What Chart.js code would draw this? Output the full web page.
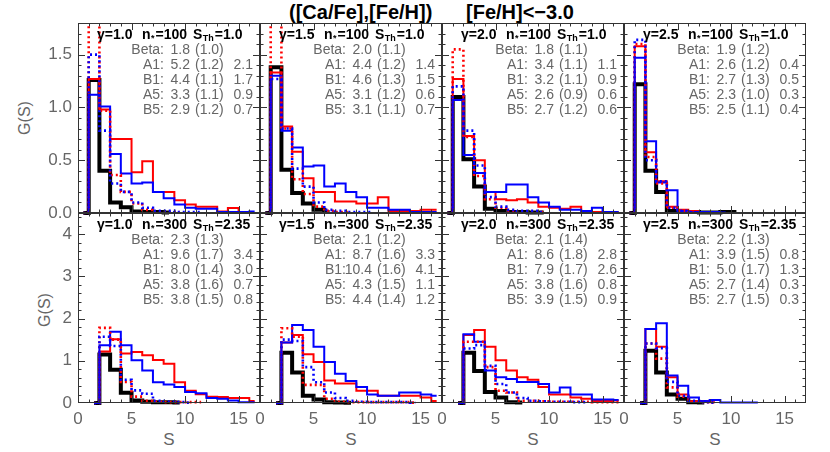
<!DOCTYPE html>
<html>
<head>
<meta charset="utf-8">
<script src="https://cdn.jsdelivr.net/npm/chart.js@4.4.1/dist/chart.umd.min.js"></script>
<style>
html,body{margin:0;padding:0;background:#fff;}
#fig{position:relative;width:830px;height:452px;overflow:hidden;font-family:"Liberation Sans",Arial,sans-serif;background:#fff;}
.pan{position:absolute;}
.ttl{position:absolute;top:0px;font-weight:bold;font-size:20px;color:#000;white-space:nowrap;line-height:24px;}
.ylab{position:absolute;width:50px;height:20px;font-size:16px;color:#666;transform:rotate(-90deg);text-align:center;white-space:nowrap;line-height:20px;}
.xlab{position:absolute;width:20px;top:430px;font-size:17px;color:#666;text-align:center;line-height:20px;}
</style>
</head>
<body>
<div id="fig">
  <div class="ttl" style="left:289px">([Ca/Fe],[Fe/H])</div>
  <div class="ttl" style="left:466px">[Fe/H]&lt;−3.0</div>
  <div class="ylab" style="left:0px;top:108px">G(S)</div>
  <div class="ylab" style="left:20px;top:300px">G(S)</div>
  <div class="xlab" style="left:159px">S</div>
  <div class="xlab" style="left:341px">S</div>
  <div class="xlab" style="left:523px">S</div>
  <div class="xlab" style="left:705px">S</div>
</div>
<script>
// ---------------- DATA ----------------
const topCenters = [0.5,1.5,2.5,3.5,4.5,5.5,6.5,7.5,8.5,9.5,10.5,11.5,12.5,13.5,14.5,15.5,16.5];
const botCenters = [1.5,2.5,3.5,4.5,5.5,6.5,7.5,8.5,9.5,10.5,11.5,12.5,13.5,14.5,15.5,16.5];

const gammas = ['1.0','1.5','2.0','2.5'];
const nStars = ['100','300'];
const sThs = ['1.0','2.35'];
const statLabels = ['Beta:','A1:','B1:','A5:','B5:'];

// top row (n*=100)
const top1Black   = [0,1.26,0.40,0.10,0.055,0.015,0.01,0.01,0.005];
const top1Red     = [0,1.27,0.98,0.70,0.70,0.385,0.49,0.20,0.20,0.12,0.08,0.06,0.06,0.015,0.047,0];
const top1Blue    = [0,1.12,1.01,0.56,0.375,0.28,0.29,0.20,0.14,0.08,0.05,0.04,0.04,0.01,0.01,0.01,0.015];
const top1RedDot  = [0,2.3,0.97,0.36,0.20,0.09,0.03,0.01,0.01,0.01];
const top1BlueDot = [0,1.5,0.78,0.28,0.20,0.10,0.05,0.02,0.02,0.01,0.01,0.01];

const top2Black   = [0,1.38,0.41,0.19,0.09,0.03,0.01];
const top2Red     = [0,1.33,0.82,0.58,0.33,0.20,0.20,0.11,0.11,0.09,0.09,0.15,0.02,0.02,0.02,0.03,0.03];
const top2Blue    = [0,1.30,0.78,0.62,0.44,0.45,0.25,0.28,0.20,0.15,0.05,0.05,0.03,0.03,0.01,0.01,0.01];
const top2RedDot  = [0,2.3,0.80,0.32,0.18,0.06,0.02,0.01,0.01];
const top2BlueDot = [0,1.27,0.80,0.42,0.25,0.10,0.03,0.02,0.01,0.01,0.01];

const top3Black   = [0,1.10,0.51,0.25,0.04,0.02,0.01,0.01,0.005,0.005];
const top3Red     = [0,1.27,0.73,0.50,0.20,0.13,0.12,0.13,0.10,0.06,0.05,0.04,0.06,0.02,0.01,0.01,0.01,0.02];
const top3Blue    = [0,1.07,0.55,0.38,0.20,0.20,0.27,0.27,0.15,0.10,0.06,0.03,0.03,0.02,0.05,0.01,0.01];
const top3RedDot  = [0,1.55,0.72,0.35,0.13,0.05,0.02,0.01,0.01,0.01];
const top3BlueDot = [0,1.20,0.78,0.45,0.15,0.06,0.03,0.02,0.02,0.01];

const top4Black   = [0,1.22,0.40,0.20,0.02,0.01,0.01,0.005,0.005,0.01,0.01];
const top4Red     = [0,1.58,0.575,0.30,0.06,0.03,0.02,0.01];
const top4Blue    = [0,1.47,0.68,0.29,0.215,0.02,0.01,0.01,0.01,0.005];
const top4RedDot  = [0,1.60,0.53,0.28,0.05,0.02,0.01];
const top4BlueDot = [0,1.64,0.50,0.30,0.05,0.02,0.01];

// bottom row (n*=300)
const bot1Black   = [0,1.15,0.79,0.24,0.06,0.03,0.02,0.02,0.01];
const bot1Red     = [0,1.22,1.51,1.17,1.21,1.13,1.02,0.93,0.49,0.29,0.21,0.15,0.14,0.12,0.12,0.05];
const bot1Blue    = [0,1.37,1.69,1.37,1.01,0.77,0.49,0.44,0.38,0.26,0.23,0.12,0.10,0.06,0.02,0.02];
const bot1RedDot  = [0,1.78,1.50,0.50,0.15,0.05,0.03,0.02,0.02,0.02,0.02];
const bot1BlueDot = [0,1.57,1.35,0.55,0.30,0.22,0.05,0.03,0.02,0.01];

const bot2Black   = [0,1.19,0.72,0.17,0.08,0.02,0.01,0.005];
const bot2Red     = [0,1.43,1.61,1.155,0.97,0.53,0.46,0.46,0.29,0.29,0.17,0.17,0.17,0.17,0.13,0.05];
const bot2Blue    = [0,1.43,1.85,1.73,1.33,0.97,0.69,0.52,0.38,0.20,0.17,0.17,0.25,0.25,0.20,0.17];
const bot2RedDot  = [0,1.77,1.57,0.43,0.43,0.10,0.03,0.02,0.02,0.02,0.02,0.02,0.02,0.01];
const bot2BlueDot = [0,1.50,1.47,0.85,0.49,0.25,0.12,0.05,0.03,0.02,0.02,0.02,0.02,0.01];

const bot3Black   = [0,1.19,0.76,0.26,0.13,0.02,0.01];
const bot3Red     = [0,1.61,1.73,1.33,1.01,0.77,0.61,0.55,0.38,0.20,0.20,0.13,0.10,0.05,0.05,0.06];
const bot3Blue    = [0,1.63,1.45,0.77,0.61,0.57,0.50,0.50,0.45,0.25,0.37,0.20,0.20,0.08,0.08,0.07];
const bot3RedDot  = [0,1.45,1.45,0.85,0.29,0.25,0.05,0.05,0.04,0.03,0.03,0.03,0.03,0.02,0.02,0.02];
const bot3BlueDot = [0,1.29,1.37,0.88,0.45,0.25,0.12,0.05,0.04,0.03,0.03,0.02,0.02];

const bot4Black   = [0,1.24,0.72,0.20,0.10,0.02,0.01];
const bot4Red     = [0,1.75,1.33,0.61,0.20,0.04,0.04,0.02];
const bot4Blue    = [0,1.75,1.89,0.65,0.41,0.13,0.05,0.07,0.01,0.01,0.01,0.01];
const bot4RedDot  = [0,1.41,1.05,0.37,0.15,0.03,0.02,0.01];
const bot4BlueDot = [0,1.41,1.30,0.50,0.17,0.05,0.02,0.01];

// fit statistics: [value, (sigma), third]
const top1Stats = [['1.8','(1.0)',''],['5.2','(1.2)','2.1'],['4.4','(1.1)','1.7'],['3.3','(1.1)','0.9'],['2.9','(1.2)','0.7']];
const top2Stats = [['2.0','(1.1)',''],['4.4','(1.2)','1.4'],['4.6','(1.3)','1.5'],['3.1','(1.2)','0.6'],['3.1','(1.1)','0.7']];
const top3Stats = [['1.8','(1.1)',''],['3.4','(1.1)','1.1'],['3.2','(1.1)','0.9'],['2.6','(0.9)','0.6'],['2.7','(1.2)','0.6']];
const top4Stats = [['1.9','(1.2)',''],['2.6','(1.2)','0.4'],['2.7','(1.3)','0.5'],['2.3','(1.0)','0.3'],['2.5','(1.1)','0.4']];
const bot1Stats = [['2.3','(1.3)',''],['9.6','(1.7)','3.4'],['8.0','(1.4)','3.0'],['3.8','(1.6)','0.7'],['3.8','(1.5)','0.8']];
const bot2Stats = [['2.1','(1.2)',''],['8.7','(1.6)','3.3'],['10.4','(1.6)','4.1'],['4.3','(1.5)','1.1'],['4.4','(1.4)','1.2']];
const bot3Stats = [['2.1','(1.4)',''],['8.6','(1.8)','2.8'],['7.9','(1.7)','2.6'],['3.8','(1.6)','0.8'],['3.9','(1.5)','0.9']];
const bot4Stats = [['2.2','(1.3)',''],['3.9','(1.5)','0.8'],['5.0','(1.7)','1.3'],['2.7','(1.4)','0.3'],['2.7','(1.5)','0.3']];

// axis ranges
const xMin = 0, xMax = 17;
const topYMax = 1.8, botYMax = 4.5;

// ---------------- LAYOUT ----------------
const panelLefts = [78, 260, 442, 624];
const panelW = 182;
const rowTops = [23, 213];
const rowH = 190;
const padL = 78, padT = 24, padR = 12, padB = 50;

const panels = [
  {row:0,col:0,s:[top1Black,top1Red,top1Blue,top1RedDot,top1BlueDot],st:top1Stats},
  {row:0,col:1,s:[top2Black,top2Red,top2Blue,top2RedDot,top2BlueDot],st:top2Stats},
  {row:0,col:2,s:[top3Black,top3Red,top3Blue,top3RedDot,top3BlueDot],st:top3Stats},
  {row:0,col:3,s:[top4Black,top4Red,top4Blue,top4RedDot,top4BlueDot],st:top4Stats},
  {row:1,col:0,s:[bot1Black,bot1Red,bot1Blue,bot1RedDot,bot1BlueDot],st:bot1Stats},
  {row:1,col:1,s:[bot2Black,bot2Red,bot2Blue,bot2RedDot,bot2BlueDot],st:bot2Stats},
  {row:1,col:2,s:[bot3Black,bot3Red,bot3Blue,bot3RedDot,bot3BlueDot],st:bot3Stats},
  {row:1,col:3,s:[bot4Black,bot4Red,bot4Blue,bot4RedDot,bot4BlueDot],st:bot4Stats}
];

const FONT = '"Liberation Sans", Arial, sans-serif';

function drawHeader(ctx, x0, y0, g, n, s) {
  const y = y0 + 12;
  const big = 'bold 14px ' + FONT, small = 'bold 9px ' + FONT;
  ctx.fillStyle = '#000'; ctx.textAlign = 'left'; ctx.textBaseline = 'middle';
  ctx.font = big; ctx.fillText('γ=' + g, x0 + 19, y);
  let x = x0 + 64;
  ctx.fillText('n', x, y); x += ctx.measureText('n').width;
  ctx.font = small; ctx.fillText('*', x + 0.5, y + 4); x += ctx.measureText('*').width + 1.5;
  ctx.font = big; ctx.fillText('=' + n, x, y);
  x = x0 + 115;
  ctx.fillText('S', x, y); x += ctx.measureText('S').width;
  ctx.font = small; ctx.fillText('Th', x + 0.5, y + 4); x += ctx.measureText('Th').width + 1.5;
  ctx.font = big; ctx.fillText('=' + s, x, y);
}

function drawStats(ctx, x0, y0, stats) {
  ctx.font = '14px ' + FONT; ctx.fillStyle = '#666'; ctx.textBaseline = 'middle';
  stats.forEach((row, k) => {
    const y = y0 + 27.5 + 15 * k;
    ctx.textAlign = 'right';
    ctx.fillText(statLabels[k], x0 + 86, y);
    ctx.fillText(row[0], x0 + 112, y);
    ctx.textAlign = 'left';
    ctx.fillText(row[1], x0 + 117, y);
    if (row[2]) { ctx.textAlign = 'right'; ctx.fillText(row[2], x0 + 175, y); }
  });
}

const decorPlugin = {
  id: 'decor',
  afterDatasetsDraw(chart) {
    const o = chart.options.plugins.decor;
    const ctx = chart.ctx, a = chart.chartArea;
    const xs = chart.scales.x, ys = chart.scales.y;
    ctx.save();
    ctx.strokeStyle = '#333'; ctx.lineWidth = 1;
    ctx.strokeRect(a.left + 0.5, a.top + 0.5, a.right - a.left - 1, a.bottom - a.top - 1);
    ctx.beginPath();
    for (let i = xMin + 1; i < xMax; i++) {
      const px = Math.round(xs.getPixelForValue(i)) + 0.5;
      const len = (i % 5 === 0) ? 7 : 3.5;
      ctx.moveTo(px, a.bottom); ctx.lineTo(px, a.bottom - len);
      ctx.moveTo(px, a.top); ctx.lineTo(px, a.top + len);
    }
    const n = Math.floor(ys.max / o.minorY + 1e-6);
    for (let j = 1; j <= n; j++) {
      const v = j * o.minorY;
      if (v > ys.max - 1e-6) break;
      const py = Math.round(ys.getPixelForValue(v)) + 0.5;
      const len = (j % o.perMajor === 0) ? 7 : 3.5;
      ctx.moveTo(a.left, py); ctx.lineTo(a.left + len, py);
      ctx.moveTo(a.right, py); ctx.lineTo(a.right - len, py);
    }
    ctx.stroke();
    drawHeader(ctx, a.left, a.top, o.gamma, o.nstar, o.sth);
    drawStats(ctx, a.left, a.top, o.stats);
    ctx.restore();
  }
};

const fig = document.getElementById('fig');

panels.forEach(p => {
  const isTop = p.row === 0;
  const centers = isTop ? topCenters : botCenters;
  const L = panelLefts[p.col], T = rowTops[p.row];
  const wrap = document.createElement('div');
  wrap.className = 'pan';
  wrap.style.left = (L - padL) + 'px';
  wrap.style.top = (T - padT) + 'px';
  const cv = document.createElement('canvas');
  cv.width = panelW + padL + padR;
  cv.height = rowH + padT + padB;
  cv.style.width = cv.width + 'px';
  cv.style.height = cv.height + 'px';
  wrap.appendChild(cv);
  fig.appendChild(wrap);

  const mk = (vals, color, width, dash) => ({
    data: vals.map((v, i) => ({x: centers[i], y: v})),
    borderColor: color,
    borderWidth: width,
    borderDash: dash,
    borderCapStyle: 'butt',
    borderJoinStyle: 'miter',
    stepped: 'middle',
    pointRadius: 0,
    fill: false,
    clip: {left: 3, top: 0, right: 3, bottom: 4}
  });
  const [bk, rd, bl, rdd, bld] = p.s;
  const datasets = [
    mk(bld, '#0000ff', 2.6, [2, 3]),
    mk(rdd, '#ff0000', 2.6, [2, 3]),
    mk(bl, '#0000ff', 2, []),
    mk(rd, '#ff0000', 2, []),
    mk(bk, '#000000', 4, [])
  ];
  const tickFont = {family: FONT, size: 17};
  new Chart(cv, {
    type: 'line',
    data: {datasets},
    options: {
      responsive: false,
      animation: false,
      devicePixelRatio: 1,
      layout: {padding: {left: 0, top: padT, right: padR, bottom: 0}},
      plugins: {
        legend: {display: false},
        tooltip: {enabled: false},
        decor: {
          minorY: isTop ? 0.1 : 0.2, perMajor: 5,
          gamma: gammas[p.col], nstar: nStars[p.row], sth: sThs[p.row], stats: p.st
        }
      },
      scales: {
        x: {
          type: 'linear', min: xMin, max: xMax,
          afterFit(s) { s.height = padB; },
          grid: {display: false, drawTicks: false},
          border: {display: false},
          ticks: {display: !isTop, stepSize: 5, includeBounds: false, autoSkip: false, maxRotation: 0,
                  color: '#666', font: tickFont, padding: 6, callback: v => String(v)}
        },
        y: {
          type: 'linear', min: 0, max: isTop ? topYMax : botYMax,
          afterFit(s) { s.width = padL; },
          grid: {display: false, drawTicks: false},
          border: {display: false},
          ticks: {display: p.col === 0, stepSize: isTop ? 0.5 : 1, includeBounds: false, autoSkip: false,
                  color: '#666', font: tickFont, padding: 6,
                  callback: v => isTop ? Number(v).toFixed(1) : String(v)}
        }
      }
    },
    plugins: [decorPlugin]
  });
});
</script>
</body>
</html>
